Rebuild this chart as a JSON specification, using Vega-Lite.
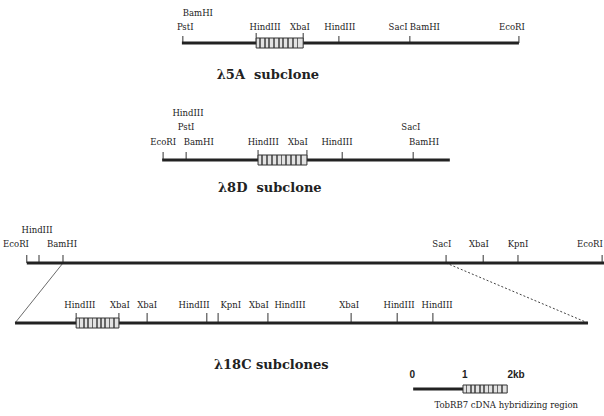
{
  "$schema": "https://vega.github.io/schema/vega-lite/v6.json",
  "autosize": {"type": "none"},
  "width": 604,
  "height": 416,
  "padding": 0,
  "background": "white",
  "config": {"view": {"stroke": null}},
  "datasets": {
    "backbones": [
      {"clone": "5A", "start": 3.87, "end": 11.04, "track": 43},
      {"clone": "8D", "start": 3.45, "end": 9.57, "track": 160},
      {"clone": "18C", "start": 0.57, "end": 12.85, "track": 263},
      {"clone": "18C sub", "start": 0.32, "end": 12.51, "track": 323},
      {"clone": "scale", "start": 8.79, "end": 9.85, "track": 389}
    ],
    "ticks": [
      {"kb": 3.89, "top": 36, "line": 43}, {"kb": 5.45, "top": 33, "line": 43}, {"kb": 6.45, "top": 33, "line": 43},
      {"kb": 7.21, "top": 36, "line": 43}, {"kb": 8.72, "top": 36, "line": 43}, {"kb": 11.04, "top": 36, "line": 43},
      {"kb": 3.47, "top": 152, "line": 160}, {"kb": 3.96, "top": 152, "line": 160}, {"kb": 5.49, "top": 150, "line": 160},
      {"kb": 6.53, "top": 150, "line": 160}, {"kb": 7.28, "top": 152, "line": 160}, {"kb": 8.79, "top": 152, "line": 160},
      {"kb": 0.57, "top": 255, "line": 263}, {"kb": 0.83, "top": 255, "line": 263}, {"kb": 1.34, "top": 255, "line": 263},
      {"kb": 9.49, "top": 255, "line": 263}, {"kb": 10.28, "top": 255, "line": 263}, {"kb": 11.02, "top": 255, "line": 263},
      {"kb": 12.81, "top": 255, "line": 263},
      {"kb": 1.62, "top": 313, "line": 323}, {"kb": 2.53, "top": 313, "line": 323}, {"kb": 3.13, "top": 313, "line": 323},
      {"kb": 4.40, "top": 313, "line": 323}, {"kb": 4.64, "top": 313, "line": 323}, {"kb": 5.70, "top": 313, "line": 323},
      {"kb": 7.47, "top": 313, "line": 323}, {"kb": 8.45, "top": 313, "line": 323}, {"kb": 9.21, "top": 313, "line": 323}
    ],
    "boxes": [
      {"start": 5.45, "end": 6.45, "top": 38, "bottom": 48},
      {"start": 5.49, "end": 6.53, "top": 155, "bottom": 165},
      {"start": 1.62, "end": 2.53, "top": 318, "bottom": 328},
      {"start": 9.85, "end": 10.79, "top": 385, "bottom": 393}
    ],
    "solidlink": [{"x1": 0.32, "y1": 323, "x2": 1.34, "y2": 263}],
    "dashlink": [{"x1": 9.49, "y1": 263, "x2": 12.51, "y2": 323}],
    "sites": [
      {"name": "BamHI", "kb": 4.21, "row": 13},
      {"name": "PstI", "kb": 3.94, "row": 27},
      {"name": "HindIII", "kb": 5.64, "row": 27},
      {"name": "XbaI", "kb": 6.38, "row": 27},
      {"name": "HindIII", "kb": 7.23, "row": 27},
      {"name": "SacI", "kb": 8.47, "row": 27},
      {"name": "BamHI", "kb": 9.04, "row": 27},
      {"name": "EcoRI", "kb": 10.89, "row": 27},
      {"name": "HindIII", "kb": 4.00, "row": 113},
      {"name": "PstI", "kb": 3.96, "row": 127},
      {"name": "EcoRI", "kb": 3.47, "row": 142},
      {"name": "BamHI", "kb": 4.23, "row": 142},
      {"name": "HindIII", "kb": 5.60, "row": 142},
      {"name": "XbaI", "kb": 6.34, "row": 142},
      {"name": "HindIII", "kb": 7.17, "row": 142},
      {"name": "SacI", "kb": 8.74, "row": 127},
      {"name": "BamHI", "kb": 9.02, "row": 142},
      {"name": "EcoRI", "kb": 0.34, "row": 244},
      {"name": "HindIII", "kb": 0.79, "row": 230},
      {"name": "BamHI", "kb": 1.32, "row": 244},
      {"name": "SacI", "kb": 9.40, "row": 244},
      {"name": "XbaI", "kb": 10.19, "row": 244},
      {"name": "KpnI", "kb": 11.02, "row": 244},
      {"name": "EcoRI", "kb": 12.55, "row": 244},
      {"name": "HindIII", "kb": 1.70, "row": 305},
      {"name": "XbaI", "kb": 2.55, "row": 305},
      {"name": "XbaI", "kb": 3.13, "row": 305},
      {"name": "HindIII", "kb": 4.13, "row": 305},
      {"name": "KpnI", "kb": 4.91, "row": 305},
      {"name": "XbaI", "kb": 5.51, "row": 305},
      {"name": "HindIII", "kb": 6.17, "row": 305},
      {"name": "XbaI", "kb": 7.43, "row": 305},
      {"name": "HindIII", "kb": 8.49, "row": 305},
      {"name": "HindIII", "kb": 9.30, "row": 305},
      {"name": "TobRB7 cDNA hybridizing region", "kb": 10.77, "row": 405}
    ],
    "titles": [
      {"name": "λ5A\u00a0 subclone", "kb": 5.70, "row": 75},
      {"name": "λ8D\u00a0 subclone", "kb": 5.74, "row": 188},
      {"name": "λ18C subclones", "kb": 5.77, "row": 365}
    ],
    "scalebar": [
      {"name": "0", "kb": 8.77, "row": 375},
      {"name": "1", "kb": 9.89, "row": 375},
      {"name": "2kb", "kb": 10.98, "row": 375}
    ]
  },
  "layer": [
    {
      "data": {"name": "solidlink"},
      "mark": {"type": "rule", "stroke": "#444", "strokeWidth": 0.8},
      "encoding": {
        "x": {"field": "x1", "type": "quantitative", "scale": {"domain": [0, 12.85], "nice": false, "zero": false}, "axis": null},
        "y": {"field": "y1", "type": "quantitative", "scale": {"domain": [0, 416], "nice": false, "zero": false, "reverse": true}, "axis": null},
        "x2": {"field": "x2"},
        "y2": {"field": "y2"}
      }
    },
    {
      "data": {"name": "dashlink"},
      "mark": {"type": "rule", "stroke": "#444", "strokeWidth": 1, "strokeDash": [2, 2]},
      "encoding": {
        "x": {"field": "x1", "type": "quantitative", "axis": null},
        "y": {"field": "y1", "type": "quantitative", "axis": null},
        "x2": {"field": "x2"},
        "y2": {"field": "y2"}
      }
    },
    {
      "data": {"name": "ticks"},
      "mark": {"type": "rule", "stroke": "#333", "strokeWidth": 1},
      "encoding": {
        "x": {"field": "kb", "type": "quantitative", "axis": null},
        "y": {"field": "top", "type": "quantitative", "axis": null},
        "y2": {"field": "line"}
      }
    },
    {
      "data": {"name": "backbones"},
      "mark": {"type": "rule", "stroke": "#222", "strokeWidth": 3},
      "encoding": {
        "x": {"field": "start", "type": "quantitative", "axis": null},
        "x2": {"field": "end"},
        "y": {"field": "track", "type": "quantitative", "axis": null}
      }
    },
    {
      "data": {"name": "boxes"},
      "mark": {
        "type": "rect",
        "stroke": "#333",
        "strokeWidth": 1,
        "fill": {
          "gradient": "linear", "x1": 0, "y1": 0, "x2": 1, "y2": 0,
          "stops": [
            {"offset": 0, "color": "#e2e2e2"}, {"offset": 0.06, "color": "#e2e2e2"}, {"offset": 0.06, "color": "#666"}, {"offset": 0.1, "color": "#666"},
            {"offset": 0.1, "color": "#e2e2e2"}, {"offset": 0.16, "color": "#e2e2e2"}, {"offset": 0.16, "color": "#666"}, {"offset": 0.2, "color": "#666"},
            {"offset": 0.2, "color": "#e2e2e2"}, {"offset": 0.26, "color": "#e2e2e2"}, {"offset": 0.26, "color": "#666"}, {"offset": 0.3, "color": "#666"},
            {"offset": 0.3, "color": "#e2e2e2"}, {"offset": 0.36, "color": "#e2e2e2"}, {"offset": 0.36, "color": "#666"}, {"offset": 0.4, "color": "#666"},
            {"offset": 0.4, "color": "#e2e2e2"}, {"offset": 0.46, "color": "#e2e2e2"}, {"offset": 0.46, "color": "#666"}, {"offset": 0.5, "color": "#666"},
            {"offset": 0.5, "color": "#e2e2e2"}, {"offset": 0.56, "color": "#e2e2e2"}, {"offset": 0.56, "color": "#666"}, {"offset": 0.6, "color": "#666"},
            {"offset": 0.6, "color": "#e2e2e2"}, {"offset": 0.66, "color": "#e2e2e2"}, {"offset": 0.66, "color": "#666"}, {"offset": 0.7, "color": "#666"},
            {"offset": 0.7, "color": "#e2e2e2"}, {"offset": 0.76, "color": "#e2e2e2"}, {"offset": 0.76, "color": "#666"}, {"offset": 0.8, "color": "#666"},
            {"offset": 0.8, "color": "#e2e2e2"}, {"offset": 0.86, "color": "#e2e2e2"}, {"offset": 0.86, "color": "#666"}, {"offset": 0.9, "color": "#666"},
            {"offset": 0.9, "color": "#e2e2e2"}, {"offset": 1, "color": "#e2e2e2"}
          ]
        }
      },
      "encoding": {
        "x": {"field": "start", "type": "quantitative", "axis": null},
        "x2": {"field": "end"},
        "y": {"field": "top", "type": "quantitative", "axis": null},
        "y2": {"field": "bottom"}
      }
    },
    {
      "data": {"name": "sites"},
      "mark": {"type": "text", "font": "DejaVu Serif", "fontSize": 8.5, "fill": "#222", "align": "center", "baseline": "middle"},
      "encoding": {
        "x": {"field": "kb", "type": "quantitative", "axis": null},
        "y": {"field": "row", "type": "quantitative", "axis": null},
        "text": {"field": "name"}
      }
    },
    {
      "data": {"name": "titles"},
      "mark": {"type": "text", "font": "DejaVu Serif", "fontWeight": "bold", "fontSize": 13, "fill": "#222", "align": "center", "baseline": "middle"},
      "encoding": {
        "x": {"field": "kb", "type": "quantitative", "axis": null},
        "y": {"field": "row", "type": "quantitative", "axis": null},
        "text": {"field": "name"}
      }
    },
    {
      "data": {"name": "scalebar"},
      "mark": {"type": "text", "font": "Liberation Sans", "fontWeight": "bold", "fontSize": 10, "fill": "#222", "align": "center", "baseline": "middle"},
      "encoding": {
        "x": {"field": "kb", "type": "quantitative", "axis": null},
        "y": {"field": "row", "type": "quantitative", "axis": null},
        "text": {"field": "name"}
      }
    }
  ]
}
